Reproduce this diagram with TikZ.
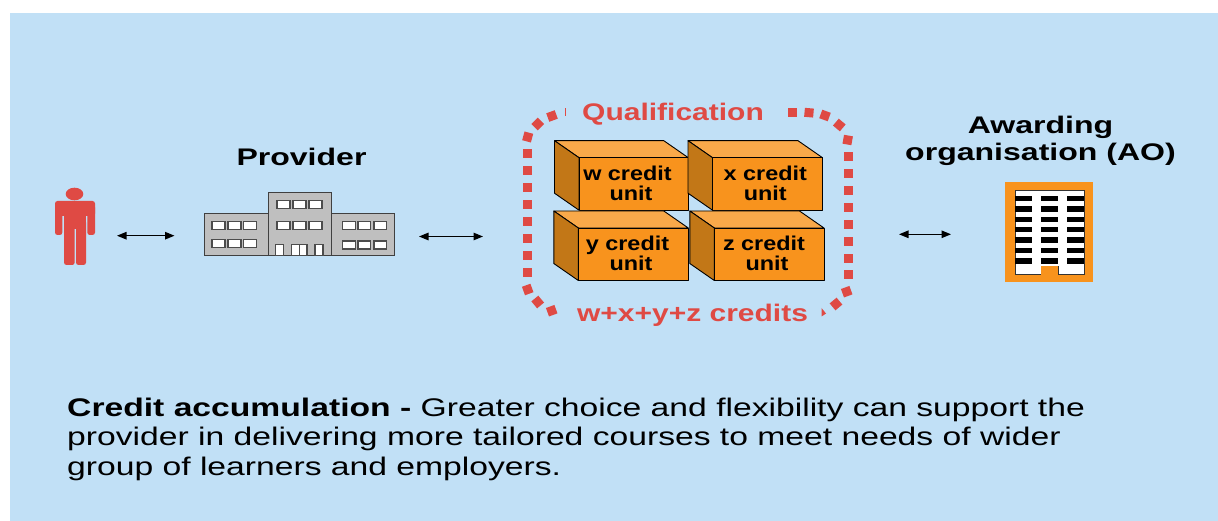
\documentclass[tikz,border=0pt]{standalone}
\usepackage{fontspec}
\setmainfont{Liberation Sans}[FakeStretch=1.17]
\newfontfamily\capfont{Liberation Sans}[FakeStretch=1.32]
\newfontfamily\headfont{Liberation Sans}[FakeStretch=1.335]
\newfontfamily\redfont{Liberation Sans}[FakeStretch=1.25]
\newfontfamily\unitfont{Liberation Sans}[FakeStretch=1.17]
\usetikzlibrary{arrows.meta}
\definecolor{bgblue}{HTML}{C1E0F6}
\definecolor{redd}{HTML}{DF4A44}
\definecolor{orange1}{HTML}{F8931D}
\definecolor{orangetop}{HTML}{F9A94A}
\definecolor{orangeside}{HTML}{C27717}
\definecolor{grayb}{HTML}{BFBFBF}
\tikzset{
  lbl/.style={inner sep=0pt,font=\headfont\fontsize{24}{27}\selectfont\bfseries,align=center,text=black},
  rlbl/.style={inner sep=0pt,font=\redfont\fontsize{24}{27}\selectfont\bfseries,text=redd},
  ulbl/.style={inner sep=0pt,font=\unitfont\fontsize{20}{20}\selectfont\bfseries,align=center,text=black},
  link/.style={draw=black,line width=1.2pt,{Triangle[length=9.5pt,width=7.5pt]}-{Triangle[length=9.5pt,width=7.5pt]}},
  win/.style={draw=black!70,fill=white,line width=1.1pt},
  facee/.style={draw=black,line width=0.9pt,line join=round},
  gbox/.style={draw=black!75,fill=grayb,line width=0.9pt},
  bar/.style={fill=black,draw=none},
}
\newcommand{\creditbox}[3]{% x,y of front top-left, front width
  \path[facee,fill=orangetop] (#1,#2) -- (#1-24.5,#2-17) -- (#1+#3-24.5,#2-17) -- (#1+#3,#2) -- cycle;
  \path[facee,fill=orangeside] (#1,#2) -- (#1-24.5,#2-17) -- (#1-24.5,#2+35.5) -- (#1,#2+52.5) -- cycle;
  \path[facee,fill=orange1] (#1,#2) rectangle (#1+#3,#2+52.5);
}
\newcommand{\dott}[3]{\fill[redd,rotate around={#3:(#1,#2)}] (#1-4.5,#2-4.5) rectangle (#1+4.5,#2+4.5);}
\begin{document}
\begin{tikzpicture}[x=1pt,y=-1pt]
\useasboundingbox (0,0) rectangle (1218,521);
\fill[bgblue] (10,13) rectangle (1218,521);

% person
\fill[redd] (74.5,194) ellipse (8.8 and 6.3);
\fill[redd,rounded corners=2.5pt] (55,201) rectangle (95,216);
\fill[redd,rounded corners=2.5pt] (55,205) rectangle (62.3,235);
\fill[redd,rounded corners=2.5pt] (87.3,205) rectangle (95,235);
\fill[redd] (64,203) rectangle (86,229);
\fill[redd,rounded corners=2.5pt] (64,220) rectangle (74.7,265);
\fill[redd,rounded corners=2.5pt] (76,220) rectangle (86,265);

\node[lbl] (provider) at (301.5,157) {Provider};

% provider building
\path[gbox] (204.5,213.5) rectangle (268,255.5);
\path[gbox] (331,213.5) rectangle (394,255.5);
\path[gbox] (268,192.5) rectangle (331,255.5);
\foreach \x in {212,228,243.7}{\path[win] (\x,221.7) rectangle +(13,7.8); \path[win] (\x,239.7) rectangle +(13,7.8);}
\foreach \x in {277,293,309}{\path[win] (\x,200.7) rectangle +(13,7.6); \path[win] (\x,221.7) rectangle +(13,7.8);}
\foreach \x in {342.7,358,374}{\path[win] (\x,221.7) rectangle +(12.6,7.8); \path[win] (\x,241) rectangle +(12.6,8);}
\path[win] (275.7,244.5) rectangle (283.5,255.5);
\path[win] (291.7,244.5) rectangle (299.3,255.5);
\path[win] (299.3,244.5) rectangle (307,255.5);
\path[win] (315,244.5) rectangle (323,255.5);

% qualification dotted frame
\foreach \k in {0,...,7}{\dott{527}{154+16.9*\k}{0}}
\foreach \k in {0,...,7}{\dott{848.7}{156.7+16.9*\k}{0}}
\dott{527.7}{137}{-15}
\dott{537.7}{124}{45}
\dott{552}{116}{20}
\fill[redd] (564.5,108.5) rectangle (565.5,116.5);
\dott{792.3}{112.7}{0}
\dott{809}{112.7}{-5}
\dott{825}{115.5}{-20}
\dott{839.3}{125}{-40}
\dott{847.7}{140}{-10}
\dott{527.7}{289.5}{20}
\dott{537.7}{302}{40}
\dott{551.7}{310.7}{20}
\dott{846.7}{291.7}{20}
\dott{836}{304}{40}
\fill[redd] (821.5,308) -- (821.5,316.5) -- (826,313.5) -- cycle;
\node[rlbl] (qual) at (673,114) {Qualification};
\node[rlbl] (sum) at (692.5,315) {w+x+y+z credits};

% credit boxes
\creditbox{579}{157.7}{109.3}
\creditbox{712.5}{157.7}{110}
\creditbox{578.3}{228}{110}
\creditbox{714.3}{228}{109.7}
\node[ulbl] (w) at (631,183) {w credit\hspace*{7pt}\\unit};
\node[ulbl] (x) at (765.3,183) {x credit\\unit};
\node[ulbl] (y) at (631,253) {y credit\hspace*{7pt}\\unit};
\node[ulbl] (z) at (767,253) {z credit\hspace*{6pt}\\unit};

% AO
\node[lbl] (ao) at (1040.5,140.5) {Awarding\\organisation (AO)};
\fill[orange1] (1005.3,182.3) rectangle (1093.3,282);
\path[draw=black!80,fill=white,line width=0.8pt] (1015,190.3) -- (1084,190.3) -- (1084,274) -- (1058.3,274) -- (1058.3,266) -- (1041,266) -- (1041,274) -- (1015,274) -- cycle;
\fill[orange1] (1041.4,266.4) rectangle (1057.9,274.6);
\foreach \y in {195.8,206.2,216.6,227,237.4,247.8,258.2}{
  \foreach \x in {1015,1041,1067}{\fill[bar] (\x,\y) rectangle +(17,5.4);}
}

% arrows
\coordinate (a1) at (117,235.7); \coordinate (a2) at (174.5,235.7);
\coordinate (a3) at (419,236.5); \coordinate (a4) at (483,236.5);
\coordinate (a5) at (899,234.3); \coordinate (a6) at (951,234.3);
\draw[link] (a1) -- (a2);
\draw[link] (a3) -- (a4);
\draw[link] (a5) -- (a6);

% caption
\node[anchor=base west,inner sep=0pt,font=\capfont\fontsize{25.5}{29.5}\selectfont,align=left] (cap) at (67,475)
 {\textbf{Credit accumulation -} Greater choice and flexibility can support the\\provider in delivering more tailored courses to meet needs of wider\\group of learners and employers.};
\end{tikzpicture}
\end{document}
